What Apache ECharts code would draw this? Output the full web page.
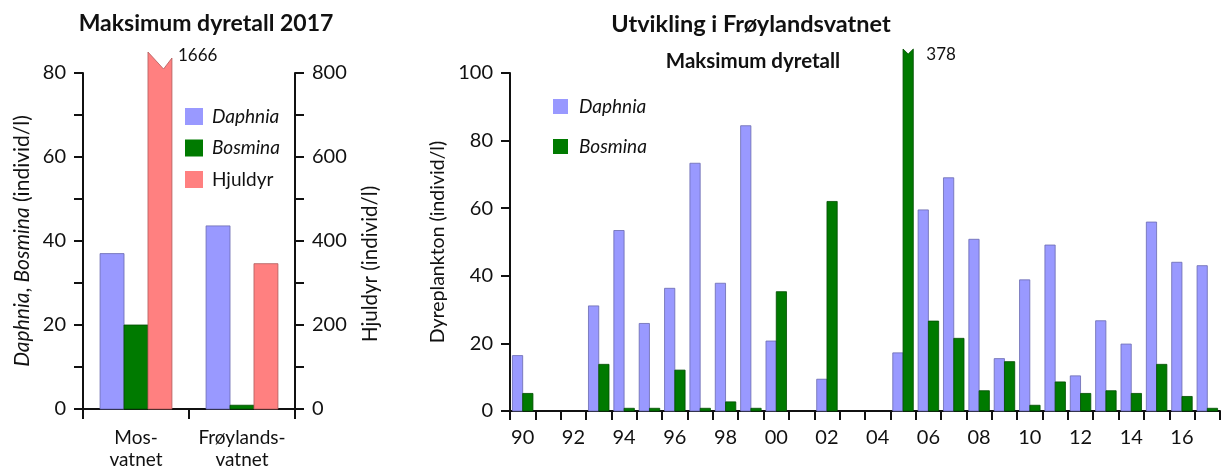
<!DOCTYPE html>
<html><head><meta charset="utf-8">
<script src="https://cdn.jsdelivr.net/npm/echarts@6/dist/echarts.min.js"></script>
<style>html,body{margin:0;padding:0;background:#fff}#c{width:1223px;height:471px}</style>
</head><body><div id="c"></div>
<script>
// ---- Data: left panel (Maksimum dyretall 2017) ----
const lakes = ['Mos-\nvatnet', 'Frøylands-\nvatnet'];
const lakeDaphnia = [37, 43.6];
const lakeBosmina = [20, 0.9];
const lakeHjuldyr = [1666, 346];
const leftTicks = [0, 20, 40, 60, 80];
const hjulTicks = [0, 200, 400, 600, 800];

// ---- Data: right panel (Utvikling i Frøylandsvatnet) ----
const years = ['90','91','92','93','94','95','96','97','98','99','00','01','02','03','04','05','06','07','08','09','10','11','12','13','14','15','16','17'];
const daphnia = [16.4, null, null, 31.1, 53.4, 25.9, 36.3, 73.3, 37.8, 84.4, 20.7, null, 9.4, null, null, 17.2, 59.5, 69.0, 50.8, 15.5, 38.8, 49.1, 10.4, 26.7, 19.8, 55.9, 44.0, 43.0];
const bosmina = [5.2, null, null, 13.8, 0.8, 0.8, 12.1, 0.8, 2.7, 0.8, 35.3, null, 62.0, null, null, 378, 26.6, 21.5, 6.0, 14.6, 1.7, 8.6, 5.2, 6.0, 5.2, 13.8, 4.3, 0.8];
const trendTicks = [0, 20, 40, 60, 80, 100];

const FONT = 'Lato';
const INK = '#111';
const C_DAPH = '#9999ff', C_BOS = '#007a00', C_HJUL = '#ff8080';

function pairs(arr) { return arr.map((v, i) => [i, v]); }

// Bar drawn through the axis scale; values above the axis max get a broken (notched) top.
function barRenderer(o) {
  return function (params, api) {
    const cat = api.value(0), v = api.value(1);
    if (v == null || isNaN(v)) return null;
    const band = api.size([1, 0])[0];
    const w = band * o.ratio;
    const base = api.coord([cat, 0]);
    const x0 = base[0] - o.slots * w / 2 + o.slot * w;
    const x1 = x0 + w;
    const style = api.style();
    style.lineWidth = 0.8;
    if (v <= o.max) {
      const top = api.coord([cat, v]);
      return { type: 'rect', shape: { x: x0, y: top[1], width: w, height: base[1] - top[1] }, style: style };
    }
    const capY = api.coord([cat, o.max])[1] - o.extra;
    return {
      type: 'group',
      children: [
        { type: 'polygon', shape: { points: [[x0, base[1]], [x0, capY], [x0 + w * o.notchX, capY + o.notch], [x1, capY + o.rightDrop], [x1, base[1]]] }, style: style },
        { type: 'text', style: { text: String(v), x: x1 + o.labelDx, y: capY + o.labelDy, fill: INK, font: '17px ' + FONT, verticalAlign: 'middle' } }
      ]
    };
  };
}

const axisLineStyle = { color: INK, width: 2 };
const labelStyle = { fontFamily: FONT, fontSize: 20, color: INK };

const option = {
  animation: false,
  textStyle: { fontFamily: FONT },
  title: [
    { text: 'Maksimum dyretall 2017', left: 201, top: 7, textAlign: 'center', textStyle: { fontFamily: FONT, fontWeight: 'bold', fontSize: 23, color: INK } },
    { text: 'Utvikling i Frøylandsvatnet', left: 746, top: 7, textAlign: 'center', textStyle: { fontFamily: FONT, fontWeight: 'bold', fontSize: 23.5, color: INK } },
    { text: 'Maksimum dyretall', left: 748, top: 46, textAlign: 'center', textStyle: { fontFamily: FONT, fontWeight: 'bold', fontSize: 20.5, color: INK } }
  ],
  legend: [
    {
      orient: 'vertical', left: 185, top: 107, padding: 0, itemWidth: 18, itemHeight: 17, itemGap: 12.5, icon: 'rect',
      data: ['Daphnia', 'Bosmina', 'Hjuldyr'],
      formatter: n => n === 'Hjuldyr' ? '{n|' + n + '}' : '{i|' + n + '}',
      textStyle: { rich: {
        i: { fontFamily: FONT, fontSize: 19, lineHeight: 17, fontStyle: 'italic', color: INK, padding: [0, 0, 0, 4] },
        n: { fontFamily: FONT, fontSize: 19, lineHeight: 17, color: INK, padding: [0, 0, 0, 4] } } }
    },
    {
      orient: 'vertical', left: 553, top: 97, padding: 0, itemWidth: 15, itemHeight: 15, itemGap: 21, icon: 'rect',
      data: ['Daphnia', 'Bosmina'],
      formatter: n => '{i|' + n + '}',
      textStyle: { rich: { i: { fontFamily: FONT, fontSize: 19, lineHeight: 15, fontStyle: 'italic', color: INK, padding: [0, 0, 0, 6] } } }
    }
  ],
  grid: [
    { left: 83, right: 1223 - 295, top: 73, bottom: 60, containLabel: false },
    { left: 510, right: 3, top: 73, bottom: 60, containLabel: false }
  ],
  xAxis: [
    {
      type: 'category', gridIndex: 0, data: lakes,
      axisLine: { lineStyle: axisLineStyle },
      axisTick: { show: true, length: 10, alignWithLabel: false, lineStyle: axisLineStyle },
      axisLabel: { margin: 18, lineHeight: 22, interval: 0, fontFamily: FONT, fontSize: 19, color: INK }
    },
    {
      type: 'category', gridIndex: 1, data: years,
      axisLine: { lineStyle: axisLineStyle },
      axisTick: { show: true, length: 9, interval: 0, alignWithLabel: false, lineStyle: axisLineStyle },
      axisLabel: Object.assign({ margin: 16, lineHeight: 22, interval: 1 }, labelStyle)
    }
  ],
  yAxis: [
    {
      type: 'value', gridIndex: 0, min: 0, max: leftTicks[leftTicks.length - 1], interval: 10,
      name: '{i|Daphnia}, {i|Bosmina} (individ/l)', nameLocation: 'middle', nameGap: 50,
      nameTextStyle: { fontFamily: FONT, fontSize: 21, color: INK, rich: { i: { fontFamily: FONT, fontSize: 21, fontStyle: 'italic', color: INK } } },
      axisLine: { show: true, lineStyle: axisLineStyle },
      axisTick: { show: true, length: 9, lineStyle: axisLineStyle },
      splitLine: { show: false },
      axisLabel: Object.assign({ margin: 17, formatter: v => leftTicks.includes(v) ? String(v) : '' }, labelStyle)
    },
    {
      type: 'value', gridIndex: 0, position: 'right', min: 0, max: hjulTicks[hjulTicks.length - 1], interval: 100,
      name: 'Hjuldyr (individ/l)', nameLocation: 'middle', nameGap: 65, nameRotate: 90,
      nameTextStyle: { fontFamily: FONT, fontSize: 20.5, color: INK, padding: [0, 46, 0, 0] },
      axisLine: { show: true, lineStyle: axisLineStyle },
      axisTick: { show: true, length: 9, lineStyle: axisLineStyle },
      splitLine: { show: false },
      axisLabel: Object.assign({ margin: 17, formatter: v => hjulTicks.includes(v) ? String(v) : '' }, labelStyle)
    },
    {
      type: 'value', gridIndex: 1, min: 0, max: trendTicks[trendTicks.length - 1], interval: 20,
      name: 'Dyreplankton (individ/l)', nameLocation: 'middle', nameGap: 52,
      nameTextStyle: { fontFamily: FONT, fontSize: 19.5, color: INK },
      axisLine: { show: true, lineStyle: axisLineStyle },
      axisTick: { show: true, length: 9, lineStyle: axisLineStyle },
      splitLine: { show: false },
      axisLabel: Object.assign({ margin: 17 }, labelStyle)
    }
  ],
  series: [
    { name: 'Daphnia', type: 'custom', xAxisIndex: 0, yAxisIndex: 0, data: pairs(lakeDaphnia), encode: { x: 0, y: 1 },
      itemStyle: { color: C_DAPH, borderColor: '#6a6ab0' },
      renderItem: barRenderer({ ratio: 0.226, slots: 3, slot: 0, max: 80 }) },
    { name: 'Bosmina', type: 'custom', xAxisIndex: 0, yAxisIndex: 0, data: pairs(lakeBosmina), encode: { x: 0, y: 1 },
      itemStyle: { color: C_BOS, borderColor: '#004d00' },
      renderItem: barRenderer({ ratio: 0.226, slots: 3, slot: 1, max: 80 }) },
    { name: 'Hjuldyr', type: 'custom', xAxisIndex: 0, yAxisIndex: 1, data: pairs(lakeHjuldyr), encode: { x: 0, y: 1 },
      itemStyle: { color: C_HJUL, borderColor: '#b05a5a' },
      renderItem: barRenderer({ ratio: 0.226, slots: 3, slot: 2, max: 800, extra: 21, notch: 17, notchX: 0.65, rightDrop: 6, labelDx: 6, labelDy: 4 }) },
    { name: 'Daphnia', type: 'custom', xAxisIndex: 1, yAxisIndex: 2, data: pairs(daphnia), encode: { x: 0, y: 1 },
      itemStyle: { color: C_DAPH, borderColor: '#6a6ab0' },
      renderItem: barRenderer({ ratio: 0.405, slots: 2, slot: 0, max: 100 }) },
    { name: 'Bosmina', type: 'custom', xAxisIndex: 1, yAxisIndex: 2, data: pairs(bosmina), encode: { x: 0, y: 1 },
      itemStyle: { color: C_BOS, borderColor: '#004d00' },
      renderItem: barRenderer({ ratio: 0.405, slots: 2, slot: 1, max: 100, extra: 24, notch: 5, notchX: 0.5, rightDrop: 0, labelDx: 13, labelDy: 6 }) }
  ]
};
const chart = echarts.init(document.getElementById('c'), null, { renderer: 'canvas' });
chart.setOption(option);
</script>
</body></html>
